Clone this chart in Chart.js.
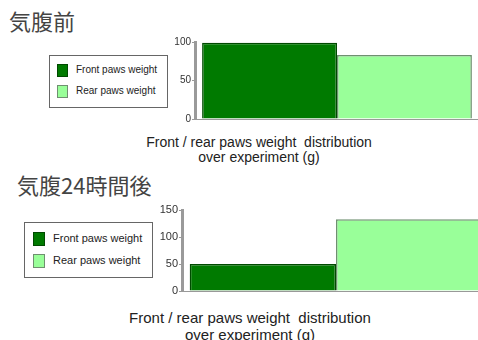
<!DOCTYPE html>
<html>
<head>
<meta charset="utf-8">
<script src="https://cdn.jsdelivr.net/npm/chart.js@4/dist/chart.umd.min.js"></script>
<style>
  html, body { margin: 0; padding: 0; background: #fff; }
  body { width: 478px; height: 340px; overflow: hidden; position: relative; font-family: "Liberation Sans", Arial, sans-serif; }
  .title { position: absolute; font-family: "Noto Sans CJK JP", sans-serif; color: #444; white-space: nowrap; line-height: 1; }
  .legend { position: absolute; border: 1px solid #666; background: #fff; box-sizing: border-box; }
  .item { position: absolute; white-space: pre; color: #222; line-height: 1; }
  .sw { position: absolute; box-sizing: border-box; }
  .xtitle { position: absolute; text-align: center; color: #222; white-space: nowrap; }
  canvas { position: absolute; }
</style>
</head>
<body>
<div class="title" style="left:9px; top:9px; font-size:22px;">気腹前</div>
<div class="title" style="left:17px; top:173px; font-size:22px;">気腹24時間後</div>

<div class="legend" style="left:49px; top:55px; width:119px; height:53px;">
  <div class="sw" id="sw1a" style="left:7px; top:8px; width:11px; height:13px;"></div>
  <div class="item" id="lg1a" style="left:26px; top:9px; font-size:10px;"></div>
  <div class="sw" id="sw1b" style="left:7px; top:29px; width:11px; height:13px;"></div>
  <div class="item" id="lg1b" style="left:26px; top:30px; font-size:10px;"></div>
</div>
<div class="legend" style="left:24px; top:222px; width:129px; height:56px;">
  <div class="sw" id="sw2a" style="left:8px; top:9px; width:12px; height:14px;"></div>
  <div class="item" id="lg2a" style="left:28px; top:10px; font-size:11px;"></div>
  <div class="sw" id="sw2b" style="left:8px; top:31px; width:12px; height:14px;"></div>
  <div class="item" id="lg2b" style="left:28px; top:32px; font-size:11px;"></div>
</div>

<div class="xtitle" style="left:109px; width:300px; top:135px; font-size:14px; line-height:15px;">Front / rear paws weight&nbsp; distribution<br>over experiment (g)</div>
<div class="xtitle" style="left:100px; width:300px; top:309px; font-size:15px; line-height:17px;">Front / rear paws weight&nbsp; distribution<br>over experiment (g)</div>

<canvas id="chartBefore" width="329" height="105" style="left:150px; top:25px;"></canvas>
<canvas id="chartAfter" width="353" height="106" style="left:137px; top:195px;"></canvas>

<script>
// dados
const seriesNames = ['Front paws weight', 'Rear paws weight'];
const seriesColors = ['#007a00', '#99ff99'];
const seriesBorders = ['#004a00', '#6f9070'];
const beforeValues = [99, 83];   // 気腹前
const afterValues = [50, 133];   // 気腹24時間後
const beforeTicks = [0, 50, 100];
const afterTicks = [0, 50, 100, 150];

// legenda em HTML
[['sw1a', 'lg1a', 0], ['sw1b', 'lg1b', 1], ['sw2a', 'lg2a', 0], ['sw2b', 'lg2b', 1]].forEach(([sw, lg, i]) => {
  const box = document.getElementById(sw);
  box.style.background = seriesColors[i];
  box.style.border = '1px solid ' + seriesBorders[i];
  document.getElementById(lg).textContent = seriesNames[i];
});

function createChart(id, values, ticks, fontSize, padTop, padBottom) {
  const ctx = document.getElementById(id).getContext('2d');
  const max = ticks[ticks.length - 1];
  return new Chart(ctx, {
    type: 'bar',
    data: {
      labels: [''],
      datasets: seriesNames.map((name, i) => ({
        label: name,
        data: [values[i]],
        backgroundColor: seriesColors[i],
        borderColor: seriesBorders[i],
        borderWidth: 1.5,
        barPercentage: 1,
        categoryPercentage: 0.95
      }))
    },
    options: {
      responsive: false,
      animation: false,
      devicePixelRatio: 1,
      layout: { padding: { top: padTop, bottom: padBottom, left: 0, right: 0 } },
      plugins: { legend: { display: false }, tooltip: { enabled: false } },
      scales: {
        x: { display: false },
        y: {
          min: 0,
          max: max,
          afterFit: (scale) => { scale.width = 45; },
          afterBuildTicks: (scale) => { scale.ticks = ticks.map(v => ({ value: v })); },
          border: { display: true, color: '#9a9a9a', width: 3 },
          grid: {
            drawOnChartArea: true,
            color: (c) => (c.tick && c.tick.value === 0 ? '#999' : 'rgba(0,0,0,0)'),
            tickColor: '#999',
            tickLength: 3
          },
          ticks: {
            padding: 1,
            color: '#333',
            font: { family: '"Liberation Sans", Arial, sans-serif', size: fontSize }
          }
        }
      }
    }
  });
}

createChart('chartBefore', beforeValues, beforeTicks, 10, 17, 11);
createChart('chartAfter', afterValues, afterTicks, 11, 15, 10);
</script>
</body>
</html>
